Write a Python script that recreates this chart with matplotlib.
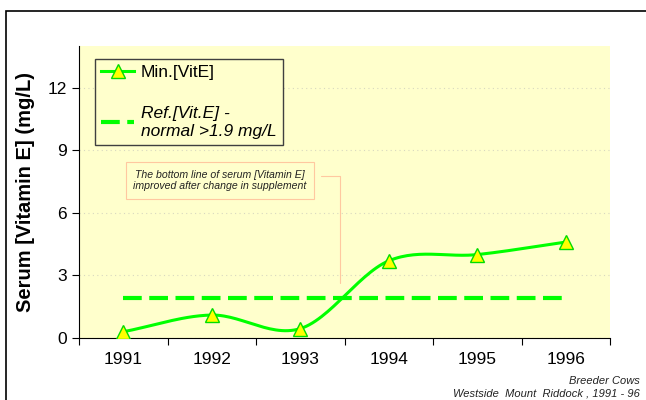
import matplotlib.pyplot as plt
import numpy as np
from matplotlib.patches import Rectangle

plt.rcParams['font.family'] = ['Liberation Sans', 'DejaVu Sans']

years = ['1991', '1992', '1993', '1994', '1995', '1996']
min_vite = [0.3, 1.1, 0.45, 3.7, 4.0, 4.6]
ref_vite = [1.9, 1.9, 1.9, 1.9, 1.9, 1.9]


def smooth(xs, ys, n=30):
    # catmull-rom style smoothing, like the excel "smoothed line"
    xs = np.asarray(xs, float)
    ys = np.asarray(ys, float)
    px = np.concatenate([[2 * xs[0] - xs[1]], xs, [2 * xs[-1] - xs[-2]]])
    py = np.concatenate([[2 * ys[0] - ys[1]], ys, [2 * ys[-1] - ys[-2]]])
    outx, outy = [], []
    t = np.linspace(0, 1, n)
    for i in range(1, len(px) - 2):
        for p, out in ((px, outx), (py, outy)):
            p0, p1, p2, p3 = p[i - 1], p[i], p[i + 1], p[i + 2]
            out.extend(0.5 * ((2 * p1) + (-p0 + p2) * t
                              + (2 * p0 - 5 * p1 + 4 * p2 - p3) * t ** 2
                              + (-p0 + 3 * p1 - 3 * p2 + p3) * t ** 3))
    return np.array(outx), np.array(outy)


fig = plt.figure(figsize=(6.46, 4.0), dpi=100)
fig.patches.append(Rectangle((6 / 646, -0.1), 1.1, 1 - 11 / 400 + 0.1,
                             transform=fig.transFigure, fill=False,
                             edgecolor='black', linewidth=1.2))
ax = fig.add_axes([79 / 646, 62 / 400, 531 / 646, 292 / 400])
ax.set_facecolor('#FFFFCC')

x = np.arange(len(years))
sx, sy = smooth(x, min_vite)
ax.plot(sx, sy, color='#00FF00', lw=2.2, zorder=3)
ax.plot(x, min_vite, linestyle='none', marker='^', markersize=10,
        markerfacecolor='#FFFF00', markeredgecolor='#00DD00', markeredgewidth=1, zorder=4)
ax.plot(x, ref_vite, color='#00FF00', lw=3, dashes=(4.5, 1.8), zorder=2)

# legend proxies
h1, = ax.plot([], [], color='#00FF00', lw=2.2, marker='^', markersize=10,
              markerfacecolor='#FFFF00', markeredgecolor='#00DD00')
h2, = ax.plot([], [], color='#00FF00', lw=3, dashes=(4.5, 1.8))
leg = ax.legend([h1, h2], ['Min.[VitE]', 'Ref.[Vit.E] -\nnormal >1.9 mg/L'],
                loc='upper left', bbox_to_anchor=(95 / 646, 1 - 59 / 400),
                bbox_transform=fig.transFigure, borderaxespad=0,
                fontsize=12.5, frameon=True, fancybox=False, framealpha=1,
                facecolor='#FFFFCC', edgecolor='#404040', labelspacing=1.5,
                handlelength=1.9, borderpad=0.35, handletextpad=0.4)
leg.get_frame().set_linewidth(1)
for t in leg.get_texts()[1:]:
    t.set_fontstyle('italic')

ax.set_xlim(-0.5, len(years) - 0.5)
ax.set_ylim(0, 14)
ax.set_yticks([0, 3, 6, 9, 12])
ax.yaxis.grid(True, linestyle=(0, (1, 3)), color='#D8D8C0', lw=0.8)
ax.set_axisbelow(True)
ax.set_xticks(np.arange(-0.5, len(years), 1))
ax.set_xticklabels([])
ax.set_xticks(x, minor=True)
ax.set_xticklabels(years, minor=True)
ax.tick_params(axis='x', which='minor', length=0, pad=10, labelsize=12.5)
ax.tick_params(axis='x', which='major', length=5, direction='out')
ax.tick_params(axis='y', length=5, labelsize=12.5, direction='out')
ax.spines['top'].set_visible(False)
ax.spines['right'].set_visible(False)
ax.set_ylabel('Serum [Vitamin E] (mg/L)', fontsize=14.5, fontweight='bold', labelpad=9)

# annotation box with connector
ax.annotate('The bottom line of serum [Vitamin E]\nimproved after change in supplement',
            xy=(2.45, 2.63), xytext=(1.09, 7.55), textcoords='data',
            fontsize=7.6, style='italic', color='#222222', ha='center', va='center',
            bbox=dict(boxstyle='square,pad=0.7', fc='#FFFFCC', ec='#FFC8A0', lw=0.8),
            arrowprops=dict(arrowstyle='-', color='#FFC8A0', lw=0.8, relpos=(1.0, 0.72),
                            shrinkA=5, shrinkB=0,
                            connectionstyle='angle,angleA=0,angleB=90,rad=0'))

fig.text(640 / 646, 1 - 381 / 400, 'Breeder Cows', fontsize=8, style='italic',
         ha='right', va='center', color='#222222')
fig.text(640 / 646, 1 - 394 / 400, 'Westside  Mount  Riddock , 1991 - 96', fontsize=8,
         style='italic', ha='right', va='center', color='#222222')

fig.savefig('out.png', dpi=100)
